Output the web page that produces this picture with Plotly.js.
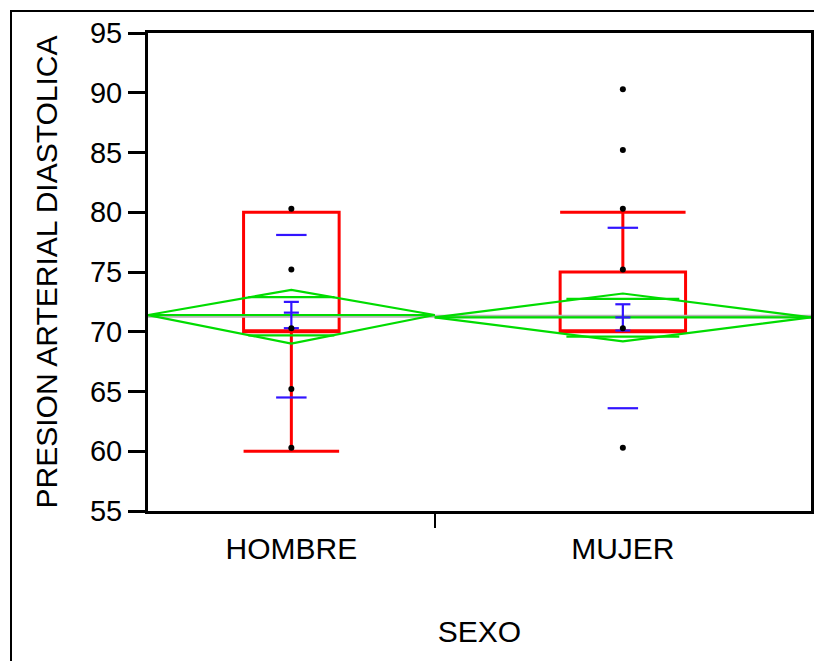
<!DOCTYPE html>
<html>
<head>
<meta charset="utf-8">
<script src="https://cdn.plot.ly/plotly-3.0.1.min.js"></script>
<style>
html,body{margin:0;padding:0;background:#fff;}
#chart{width:814px;height:661px;}
</style>
</head>
<body>
<div id="chart"></div>
<script>
// ---- data ----
const categories = ['HOMBRE', 'MUJER'];
const groupSize = [16, 21];               // relative group widths (sample sizes)
const pointsHombre = [80.3, 75.2, 70.3, 65.2, 60.3];
const pointsMujer = [90.3, 85.2, 80.3, 75.2, 70.3, 60.3];
const q1 = [70, 70];
const median = [70, 70];
const q3 = [80, 75];
const lowerWhisker = [60, 70];
const upperWhisker = [80, 80];
const means = [71.4, 71.2];
const ciLow = [69.0, 69.2];
const ciHigh = [73.5, 73.2];
const overlapLow = [69.7, 69.6];
const overlapHigh = [72.9, 72.75];
const seLow = [70.3, 70.1];
const seMid = [71.6, 71.2];
const seHigh = [72.5, 72.3];
const sdLow = [64.5, 63.6];
const sdHigh = [78.1, 78.7];
const grandMean = 71.3;
const yTicks = [55, 60, 65, 70, 75, 80, 85, 90, 95];

// ---- geometry from group sizes ----
const total = groupSize.reduce((a, b) => a + b, 0);
const left = [], right = [], center = [];
let acc = 0;
groupSize.forEach(n => { left.push(acc); right.push(acc + n); center.push(acc + n / 2); acc += n; });

const RED = '#ff0000', GREEN = '#00dc00', BLUE = '#3214ff', GREY = '#b4b4b4';
const traces = [];

// grand mean line
traces.push({x: [0, total], y: [grandMean, grandMean], mode: 'lines', line: {color: GREY, width: 3}, hoverinfo: 'skip'});

// diamonds + centre lines + overlap marks
categories.forEach((c, i) => {
  traces.push({
    x: [left[i], center[i], right[i], center[i], left[i], null, left[i], right[i]],
    y: [means[i], ciHigh[i], means[i], ciLow[i], means[i], null, means[i], means[i]],
    mode: 'lines', line: {color: GREEN, width: 2.2}, hoverinfo: 'skip'
  });
  const hw = groupSize[i] * 0.15;
  traces.push({
    x: [center[i] - hw, center[i] + hw, null, center[i] - hw, center[i] + hw],
    y: [overlapHigh[i], overlapHigh[i], null, overlapLow[i], overlapLow[i]],
    mode: 'lines', line: {color: GREEN, width: 2.2}, hoverinfo: 'skip'
  });
});

// box plots
categories.forEach((c, i) => {
  traces.push({
    type: 'box', x: [center[i]], q1: [q1[i]], median: [median[i]], q3: [q3[i]],
    lowerfence: [lowerWhisker[i]], upperfence: [upperWhisker[i]],
    width: groupSize[i] / 3, whiskerwidth: 1, boxpoints: false,
    fillcolor: 'rgba(0,0,0,0)', line: {color: RED, width: 3}, hoverinfo: 'skip'
  });
});

// std dev lines and mean error bars
categories.forEach((c, i) => {
  const sw = 0.85, cw = 0.42;
  traces.push({
    x: [center[i] - sw, center[i] + sw, null, center[i] - sw, center[i] + sw],
    y: [sdHigh[i], sdHigh[i], null, sdLow[i], sdLow[i]],
    mode: 'lines', line: {color: BLUE, width: 2.2}, hoverinfo: 'skip'
  });
  traces.push({
    x: [center[i], center[i], null, center[i] - cw, center[i] + cw, null, center[i] - cw, center[i] + cw, null, center[i] - cw, center[i] + cw],
    y: [seLow[i], seHigh[i], null, seLow[i], seLow[i], null, seMid[i], seMid[i], null, seHigh[i], seHigh[i]],
    mode: 'lines', line: {color: BLUE, width: 2.2}, hoverinfo: 'skip'
  });
});

// data points
[pointsHombre, pointsMujer].forEach((pts, i) => {
  traces.push({
    x: pts.map(() => center[i]), y: pts, mode: 'markers',
    marker: {color: '#000', size: 6}, hoverinfo: 'skip'
  });
});

const FONT = 'Liberation Sans, Arial, sans-serif';
const W = 814, H = 661, L = 148, R = 3, T = 33, B = 150;
const pw = W - L - R, ph = H - T - B;

const layout = {
  width: W, height: H,
  margin: {l: L, r: R, t: T, b: B, pad: 0},
  paper_bgcolor: '#fff', plot_bgcolor: '#fff',
  showlegend: false,
  font: {family: FONT, color: '#000', size: 29},
  xaxis: {
    range: [0, total], showgrid: false, zeroline: false,
    showline: true, linecolor: '#000', linewidth: 3, mirror: true,
    tickvals: center, ticktext: categories, ticks: '',
    ticklabelstandoff: 9,
    tickfont: {family: FONT, size: 30, color: '#000'},
    minor: {tickmode: 'array', tickvals: [right[0]], ticks: 'outside', ticklen: 14, tickwidth: 2, tickcolor: '#000', showgrid: false},
    title: {text: 'SEXO', font: {family: FONT, size: 30, color: '#000'}, standoff: 57}
  },
  yaxis: {
    range: [55, 95], tickvals: yTicks, showgrid: false, zeroline: false,
    showline: true, linecolor: '#000', linewidth: 3, mirror: true,
    ticks: 'outside', ticklen: 17, tickwidth: 3, tickcolor: '#000',
    tickfont: {family: FONT, size: 29, color: '#000'},
    title: {text: 'PRESION ARTERIAL DIASTOLICA', font: {family: FONT, size: 30, color: '#000'}, standoff: 24}
  },
  shapes: [{
    type: 'rect', xref: 'paper', yref: 'paper',
    x0: (11 - L) / pw, x1: 1.2, y0: -0.5, y1: 1 + (T - 11) / ph,
    line: {color: '#000', width: 2}, fillcolor: 'rgba(0,0,0,0)', layer: 'above'
  }]
};

Plotly.newPlot('chart', traces, layout, {displayModeBar: false, staticPlot: true});
</script>
</body>
</html>
